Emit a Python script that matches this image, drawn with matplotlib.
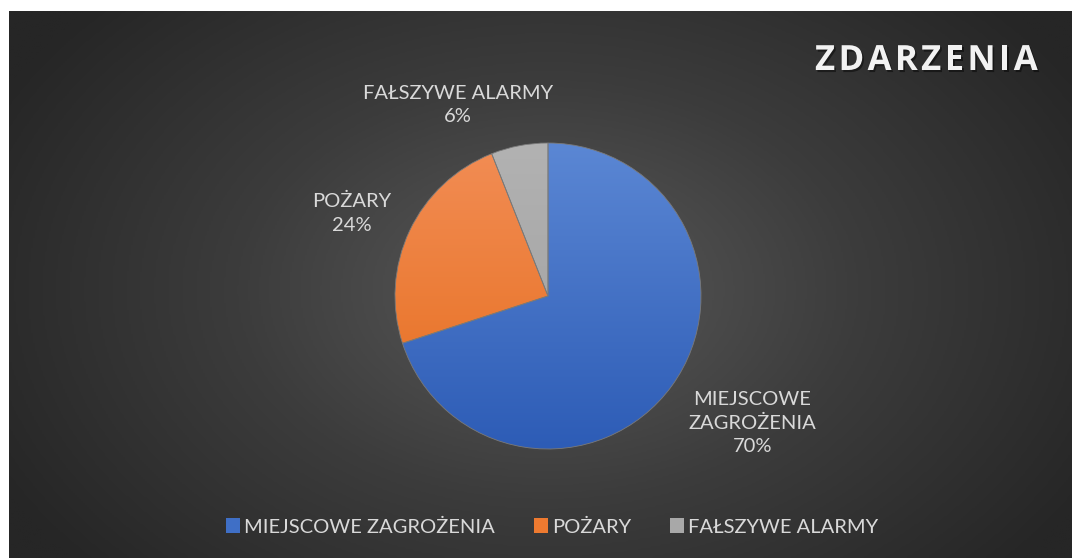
import numpy as np
import matplotlib
matplotlib.use('Agg')
import matplotlib.pyplot as plt
from matplotlib.patches import Patch
import matplotlib.patheffects as pe
from matplotlib.colors import LinearSegmentedColormap

plt.rcParams['font.family'] = ['Lato', 'DejaVu Sans']

categories = ['MIEJSCOWE ZAGROŻENIA', 'POŻARY', 'FAŁSZYWE ALARMY']
label_text = ['MIEJSCOWE\nZAGROŻENIA', 'POŻARY', 'FAŁSZYWE ALARMY']
values = [70, 24, 6]
top_colors = ['#5b87d4', '#f28d55', '#b2b2b2']
bottom_colors = ['#2d5cb6', '#e66d1c', '#9e9e9e']
legend_colors = ['#3f6fc6', '#ee7a30', '#a8a8a8']
title = 'ZDARZENIA'

W, H = 1072, 558
fig = plt.figure(figsize=(W / 100, H / 100), dpi=100)
fig.patch.set_facecolor('white')

# background panel with radial gradient
bg = fig.add_axes([9 / W, 0, (W - 9) / W, (H - 11) / H])
bg.set_axis_off()
nx, ny = 530, 275
xx, yy = np.meshgrid(np.linspace(9, W, nx), np.linspace(11, H, ny))
d = np.sqrt(((xx - 548) / 620) ** 2 + ((yy - 290) / 420) ** 2)
d = np.clip(d, 0, 1)
bgmap = LinearSegmentedColormap.from_list('bg', ['#5a5a5a', '#3c3c3c', '#262626'])
bg.imshow(d, cmap=bgmap, aspect='auto', extent=[0, 1, 0, 1], origin='upper',
          vmin=0, vmax=1, interpolation='bilinear')
bg.set_xlim(0, 1)
bg.set_ylim(0, 1)

# pie
R = 153
cx, cy = 548, H - 296
ax = fig.add_axes([(cx - R) / W, (cy - R) / H, 2 * R / W, 2 * R / H])
ax.set_axis_off()
wedges, _ = ax.pie(values, startangle=90, counterclock=False, radius=1,
                   wedgeprops=dict(edgecolor='#7a7a7a', linewidth=0.6))
grad = np.linspace(0, 1, 256).reshape(-1, 1)
for w, c0, c1 in zip(wedges, top_colors, bottom_colors):
    w.set_facecolor('none')
    cmap = LinearSegmentedColormap.from_list('g', [c0, c1])
    im = ax.imshow(grad, cmap=cmap, extent=[-1, 1, -1, 1], origin='upper',
                   aspect='auto', zorder=0.5)
    im.set_clip_path(w)
    w.set_zorder(1)
ax.set_xlim(-1, 1)
ax.set_ylim(-1, 1)

# data labels
label_pos = [(1.335, -0.83), (-1.285, 0.54), (-0.59, 1.25)]
for txt, v, (lx, ly) in zip(label_text, values, label_pos):
    ax.text(lx, ly, f'{txt}\n{v}%', ha='center', va='center', color='#d9d9d9',
            fontsize=14.5, linespacing=1.45, clip_on=False)

# title, drawn letter by letter to get the wide tracking
renderer = fig.canvas.get_renderer()
shadow = [pe.withSimplePatchShadow(offset=(1.2, -1.5), shadow_rgbFace='black', alpha=0.45)]
x = 815
for ch in title:
    t = fig.text(x / W, 1 - 61 / H, ch, ha='left', va='center', color='#f2f2f2',
                 fontsize=25, fontweight='bold', family=['Open Sans', 'DejaVu Sans'],
                 path_effects=shadow)
    x += t.get_window_extent(renderer).width + 3.3

# legend
handles = [Patch(facecolor=c, edgecolor='none') for c in legend_colors]
leg = fig.legend(handles, categories, loc='center', ncol=3,
                 bbox_to_anchor=(552 / W, 1 - 527 / H), frameon=False,
                 fontsize=14.5, handlelength=0.7, handleheight=0.7,
                 handletextpad=0.2, columnspacing=1.95, labelcolor='#d9d9d9')

fig.savefig('out.png', dpi=100, facecolor=fig.get_facecolor())
